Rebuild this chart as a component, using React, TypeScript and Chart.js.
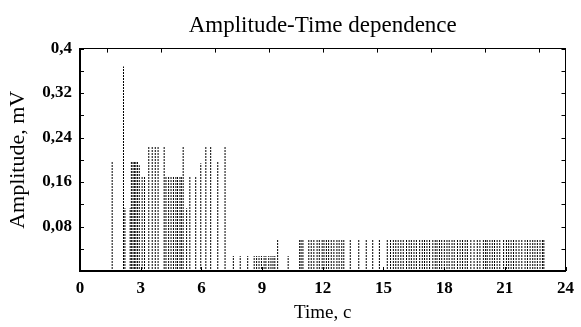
import React, { useEffect, useRef } from 'react';
import { Chart, registerables } from 'chart.js';

Chart.register(...registerables);

const titleText = 'Amplitude-Time dependence';
const xTitle = 'Time, c';
const yTitle = 'Amplitude, mV';

// impulse times (s) and amplitudes (mV)
const pulseTimes = [
  1.59, 2.15, 2.22, 2.48, 2.54, 2.62, 2.69, 2.76, 2.84, 2.93, 3.07, 3.19,
  3.40, 3.57, 3.72, 3.86, 4.16, 4.25, 4.38, 4.50, 4.62, 4.74, 4.82, 4.94, 5.01,
  5.10, 5.27, 5.43, 5.72, 5.97, 6.22, 6.46, 6.81, 7.17,
  7.58, 7.92, 8.29, 8.61, 8.73, 8.85, 8.97, 9.10, 9.19, 9.33, 9.44, 9.54, 9.63,
  9.77, 10.29,
  10.86, 10.93, 11.02, 11.31, 11.43, 11.56, 11.72, 11.83, 11.97, 12.06, 12.18, 12.29,
  12.42, 12.55, 12.70, 12.81, 12.94, 13.04, 13.36, 13.78, 14.15, 14.47, 14.80,
  15.19, 15.35, 15.49, 15.61, 15.73, 15.86, 15.98, 16.14, 16.27, 16.38, 16.51,
  16.63, 16.79, 16.92, 17.03, 17.15, 17.28, 17.44, 17.56, 17.65, 17.77, 17.88,
  18.01, 18.14, 18.25, 18.39, 18.50, 18.66, 18.79, 18.91, 19.04, 19.15, 19.32,
  19.48, 19.64, 19.77, 19.94, 20.05, 20.13, 20.26, 20.38, 20.49, 20.62, 20.75,
  20.94, 21.08, 21.19, 21.31, 21.43, 21.56, 21.70, 21.84, 22.00, 22.12, 22.25,
  22.38, 22.49, 22.61, 22.74, 22.86, 22.93,
];

const pulseAmps = [
  0.197, 0.368, 0.113, 0.113, 0.197, 0.197, 0.197, 0.197, 0.197, 0.19, 0.17, 0.17,
  0.225, 0.225, 0.225, 0.225, 0.225, 0.17, 0.17, 0.17, 0.17, 0.17, 0.17, 0.17, 0.17,
  0.225, 0.113, 0.17, 0.17, 0.194, 0.225, 0.225, 0.197, 0.225,
  0.027, 0.027, 0.027, 0.027, 0.027, 0.027, 0.027, 0.027, 0.027, 0.027, 0.027, 0.027, 0.027,
  0.056, 0.027,
  0.057, 0.057, 0.057, 0.057, 0.057, 0.057, 0.057, 0.057, 0.057, 0.057, 0.057, 0.057,
  0.057, 0.057, 0.057, 0.057, 0.057, 0.057, 0.057, 0.057, 0.057, 0.057, 0.057,
  0.057, 0.057, 0.057, 0.057, 0.057, 0.057, 0.057, 0.057, 0.057, 0.057, 0.057,
  0.057, 0.057, 0.057, 0.057, 0.057, 0.057, 0.057, 0.057, 0.057, 0.057, 0.057,
  0.057, 0.057, 0.057, 0.057, 0.057, 0.057, 0.057, 0.057, 0.057, 0.057, 0.057,
  0.057, 0.057, 0.057, 0.057, 0.057, 0.057, 0.057, 0.057, 0.057, 0.057, 0.057,
  0.057, 0.057, 0.057, 0.057, 0.057, 0.057, 0.057, 0.057, 0.057, 0.057, 0.057,
  0.057, 0.057, 0.057, 0.057, 0.057, 0.057,
];

const xTickValues = [0, 3, 6, 9, 12, 15, 18, 21, 24];
const xTickLabels = ['0', '3', '6', '9', '12', '15', '18', '21', '24'];
const yTickValues = [0, 0.04, 0.08, 0.12, 0.16, 0.2, 0.24, 0.28, 0.32, 0.36, 0.4];
const yTickLabels = ['', '', '0,08', '', '0,16', '', '0,24', '', '0,32', '', '0,4'];

const SERIF = "'Liberation Serif', 'Times New Roman', serif";

const innerTicks = {
  id: 'innerTicks',
  afterDatasetsDraw(chart: any) {
    const { ctx, chartArea: a } = chart;
    const len = 4;
    ctx.save();
    ctx.strokeStyle = '#000';
    ctx.lineWidth = 1;
    const sides: [string, string][] = [['x', 'bottom'], ['x2', 'top'], ['y', 'left'], ['y2', 'right']];
    sides.forEach(([id, side]) => {
      const s = chart.scales[id];
      if (!s) return;
      s.ticks.forEach((t: any) => {
        const p = Math.round(s.getPixelForValue(t.value)) + 0.5;
        ctx.beginPath();
        if (side === 'bottom') { ctx.moveTo(p, a.bottom); ctx.lineTo(p, a.bottom - len); }
        if (side === 'top') { ctx.moveTo(p, a.top); ctx.lineTo(p, a.top + len); }
        if (side === 'left') { ctx.moveTo(a.left, p); ctx.lineTo(a.left + len, p); }
        if (side === 'right') { ctx.moveTo(a.right, p); ctx.lineTo(a.right - len, p); }
        ctx.stroke();
      });
    });
    ctx.restore();
  },
};

export default function App() {
  const ref = useRef<HTMLCanvasElement>(null);

  useEffect(() => {
    if (!ref.current) return;
    const pc = document.createElement('canvas');
    pc.width = 1;
    pc.height = 3;
    const pctx = pc.getContext('2d')!;
    pctx.fillStyle = '#000';
    pctx.fillRect(0, 0, 1, 2);
    const pattern = ref.current.getContext('2d')!.createPattern(pc, 'repeat');

    const xTicksCb = (scale: any) => { scale.ticks = xTickValues.map((v) => ({ value: v })); };
    const yTicksCb = (scale: any) => { scale.ticks = yTickValues.map((v) => ({ value: v })); };

    const chart = new Chart(ref.current, {
      type: 'bar',
      data: {
        datasets: [
          {
            data: pulseTimes.map((t, i) => ({ x: t, y: pulseAmps[i] })),
            backgroundColor: pattern as any,
            borderWidth: 0,
            barThickness: 1,
            inflateAmount: 0,
          } as any,
        ],
      },
      options: {
        animation: false,
        responsive: false,
        devicePixelRatio: 1,
        layout: { padding: { right: 11, left: 0, top: 0, bottom: 0 } },
        plugins: {
          legend: { display: false },
          tooltip: { enabled: false },
          title: {
            display: true,
            text: titleText,
            fullSize: false,
            color: '#000',
            font: { family: SERIF, size: 23, weight: 'normal' },
            padding: { top: 12, bottom: 9 },
          },
        },
        scales: {
          x: {
            type: 'linear',
            position: 'bottom',
            min: 0,
            max: 24,
            offset: false,
            afterBuildTicks: xTicksCb,
            afterFit: (s: any) => { s.height = 56; },
            grid: { display: false, drawTicks: false },
            border: { display: true, color: '#000', width: 2 },
            ticks: {
              autoSkip: false,
              maxRotation: 0,
              color: '#000',
              padding: 7,
              font: { family: SERIF, size: 17, weight: 'bold' },
              callback: (_v: any, i: number) => xTickLabels[i],
            },
            title: {
              display: true,
              text: xTitle,
              color: '#000',
              font: { family: SERIF, size: 19 },
              padding: { top: 0, bottom: 3 },
            },
          },
          x2: {
            type: 'linear',
            position: 'top',
            min: 0,
            max: 24,
            afterBuildTicks: xTicksCb,
            grid: { display: false, drawTicks: false },
            border: { display: true, color: '#000', width: 1 },
            ticks: { display: false },
          },
          y: {
            type: 'linear',
            position: 'left',
            min: 0,
            max: 0.4,
            afterBuildTicks: yTicksCb,
            afterFit: (s: any) => { s.width = 80; },
            grid: { display: false, drawTicks: false },
            border: { display: true, color: '#000', width: 2 },
            ticks: {
              autoSkip: false,
              color: '#000',
              padding: 8,
              font: { family: SERIF, size: 17, weight: 'bold' },
              callback: (_v: any, i: number) => yTickLabels[i],
            },
            title: {
              display: true,
              text: yTitle,
              color: '#000',
              font: { family: SERIF, size: 22 },
              padding: { top: 5, bottom: 0 },
            },
          },
          y2: {
            type: 'linear',
            position: 'right',
            min: 0,
            max: 0.4,
            afterBuildTicks: yTicksCb,
            grid: { display: false, drawTicks: false },
            border: { display: true, color: '#000', width: 1 },
            ticks: { display: false },
          },
        },
      } as any,
      plugins: [innerTicks],
    });
    return () => chart.destroy();
  }, []);

  return (
    <div style={{ position: 'absolute', left: 0, top: 0, width: 581, height: 327, background: '#fff' }}>
      <canvas ref={ref} width={581} height={327} style={{ display: 'block', width: 581, height: 327 }} />
    </div>
  );
}
